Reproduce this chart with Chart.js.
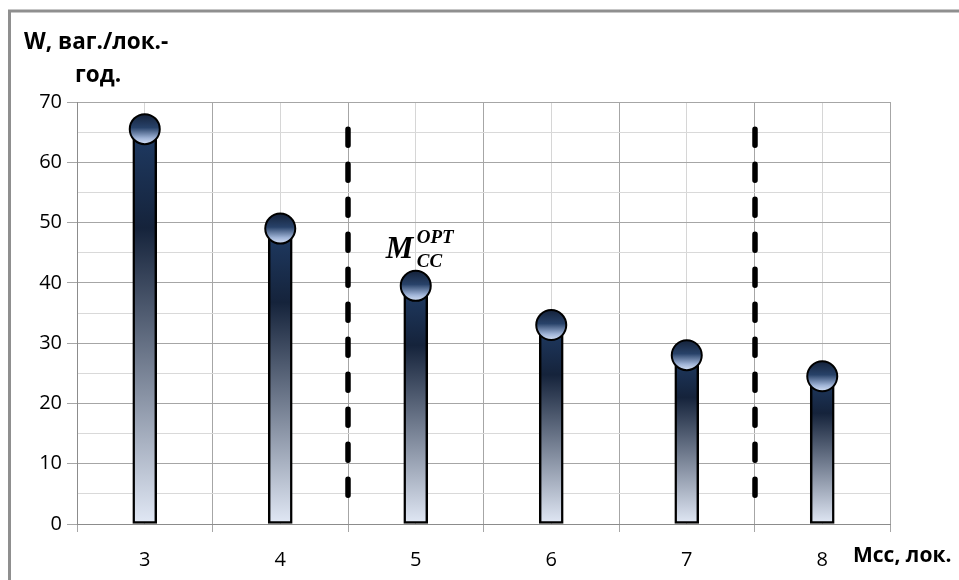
<!DOCTYPE html>
<html>
<head>
<meta charset="utf-8">
<script src="https://cdn.jsdelivr.net/npm/chart.js@4.4.1/dist/chart.umd.min.js"></script>
<style>
  html, body { margin: 0; padding: 0; background: #fff; }
  #wrap { width: 959px; height: 580px; position: relative; }
</style>
</head>
<body>
<div id="wrap"><canvas id="c" width="959" height="580"></canvas></div>
<script>
// Number of locomotives on the section vs. wagon turnover per locomotive-year
const categories = ['3', '4', '5', '6', '7', '8'];
const wagonValues = [65.5, 49, 39.5, 33, 28, 24.5];
const yTickMax = 70;
const yTickStep = 5;
const yLabelStep = 10;
// Zone boundaries: after these categories a dashed divider is drawn
const zoneBoundaryAfter = ['4', '7'];
const zoneSpan = [3, 65.5];
// Category marked as the optimum
const optimumCategory = '5';

const FONT = "'Open Sans', 'DejaVu Sans', sans-serif";

function barGradient(ctx) {
  const chart = ctx.chart;
  const y = chart.scales && chart.scales.y;
  if (!chart.chartArea || !y || ctx.raw == null) return '#1e3a62';
  const top = y.getPixelForValue(ctx.raw);
  const bottom = y.getPixelForValue(0);
  const g = chart.ctx.createLinearGradient(0, top, 0, bottom);
  g.addColorStop(0, '#1f3b64');
  g.addColorStop(0.25, '#15233b');
  g.addColorStop(1, '#e1e8f5');
  return g;
}

function pointGradient(ctx) {
  const chart = ctx.chart;
  const y = chart.scales && chart.scales.y;
  if (!chart.chartArea || !y || ctx.raw == null) return '#2b4570';
  const cy = y.getPixelForValue(ctx.raw);
  const g = chart.ctx.createLinearGradient(0, cy - 15, 0, cy + 15);
  g.addColorStop(0, '#14223a');
  g.addColorStop(0.45, '#284269');
  g.addColorStop(0.8, '#9fb3d6');
  g.addColorStop(1, '#d4e0f5');
  return g;
}

const decorations = {
  id: 'decorations',
  beforeDraw(chart) {
    const c = chart.ctx;
    c.save();
    c.fillStyle = '#fff';
    c.fillRect(0, 0, chart.width, chart.height);
    // outer frame
    c.strokeStyle = '#8f8f8f';
    c.lineWidth = 3;
    c.beginPath();
    c.moveTo(9.5, chart.height + 5);
    c.lineTo(9.5, 11);
    c.lineTo(chart.width + 5, 11);
    c.stroke();
    c.restore();
  },
  afterDatasetsDraw(chart) {
    const c = chart.ctx;
    const x = chart.scales.x;
    const y = chart.scales.y;
    c.save();
    // dashed zone dividers
    c.strokeStyle = '#000';
    c.lineWidth = 5.5;
    c.lineCap = 'round';
    c.setLineDash([16, 19]);
    zoneBoundaryAfter.forEach(cat => {
      const idx = categories.indexOf(cat) + 0.5;
      const px = Math.round(x.getPixelForValue(idx));
      c.beginPath();
      c.moveTo(px, y.getPixelForValue(zoneSpan[1]));
      c.lineTo(px, y.getPixelForValue(zoneSpan[0]));
      c.stroke();
    });
    c.setLineDash([]);

    // optimum label M_CC^OPT
    const oi = categories.indexOf(optimumCategory);
    const cx = x.getPixelForValue(oi);
    const cy = y.getPixelForValue(wagonValues[oi]);
    c.fillStyle = '#000';
    c.textBaseline = 'alphabetic';
    c.textAlign = 'left';
    c.font = "bold italic 31px 'Liberation Serif', serif";
    c.fillText('M', cx - 30, cy - 28);
    c.font = "bold italic 19px 'Liberation Serif', serif";
    c.fillText('OPT', cx + 1, cy - 43);
    c.fillText('CC', cx + 1, cy - 19);

    // axis titles
    c.font = 'bold 22.5px ' + FONT;
    c.fillText('W, ваг./лок.-', 24, 49);
    c.fillText('год.', 75, 82);
    c.font = 'bold 21px ' + FONT;
    c.fillText('Мсс, лок.', 853, 562);
    c.restore();
  }
};

new Chart(document.getElementById('c'), {
  data: {
    labels: categories,
    datasets: [
      {
        type: 'line',
        data: wagonValues,
        showLine: false,
        pointRadius: 15,
        pointHoverRadius: 15,
        pointBorderWidth: 2,
        pointHoverBorderWidth: 2,
        pointBorderColor: '#000',
        pointBackgroundColor: pointGradient,
        pointHoverBackgroundColor: pointGradient,
        order: 1
      },
      {
        type: 'bar',
        data: wagonValues,
        barThickness: 24,
        borderWidth: 2.5,
        borderColor: '#000',
        borderSkipped: false,
        backgroundColor: barGradient,
        hoverBackgroundColor: barGradient,
        order: 2
      }
    ]
  },
  options: {
    responsive: false,
    animation: false,
    devicePixelRatio: 1,
    events: [],
    layout: { padding: { top: 102, right: 69, left: 0, bottom: 0 } },
    plugins: { legend: { display: false }, tooltip: { enabled: false } },
    scales: {
      x: {
        type: 'category',
        position: 'bottom',
        offset: true,
        grid: { offset: true, color: '#a6a6a6', tickColor: '#a6a6a6', tickLength: 8, lineWidth: 1 },
        border: { color: '#8c8c8c', width: 1 },
        ticks: { color: '#000', font: { family: FONT, size: 20 }, padding: 16, maxRotation: 0 },
        afterFit(s) { s.height = 56; }
      },
      xc: {
        type: 'category',
        position: 'top',
        offset: true,
        grid: { offset: false, color: '#d6d6d6', drawTicks: false, lineWidth: 1 },
        border: { display: false },
        ticks: { display: false },
        afterFit(s) { s.height = 0; }
      },
      y: {
        min: 0,
        max: yTickMax,
        ticks: {
          stepSize: yTickStep,
          color: '#000',
          font: { family: FONT, size: 20 },
          padding: 5,
          callback: v => (v % yLabelStep === 0 ? v : '')
        },
        grid: {
          color: ctx => (ctx.tick && ctx.tick.value % yLabelStep === 0 ? '#a6a6a6' : '#d9d9d9'),
          tickColor: ctx => (ctx.tick && ctx.tick.value % yLabelStep === 0 ? '#a6a6a6' : 'rgba(0,0,0,0)'),
          tickLength: 10,
          lineWidth: 1
        },
        border: { color: '#8c8c8c', width: 1 },
        afterFit(s) { s.width = 77; }
      }
    }
  },
  plugins: [decorations]
});
</script>
</body>
</html>
